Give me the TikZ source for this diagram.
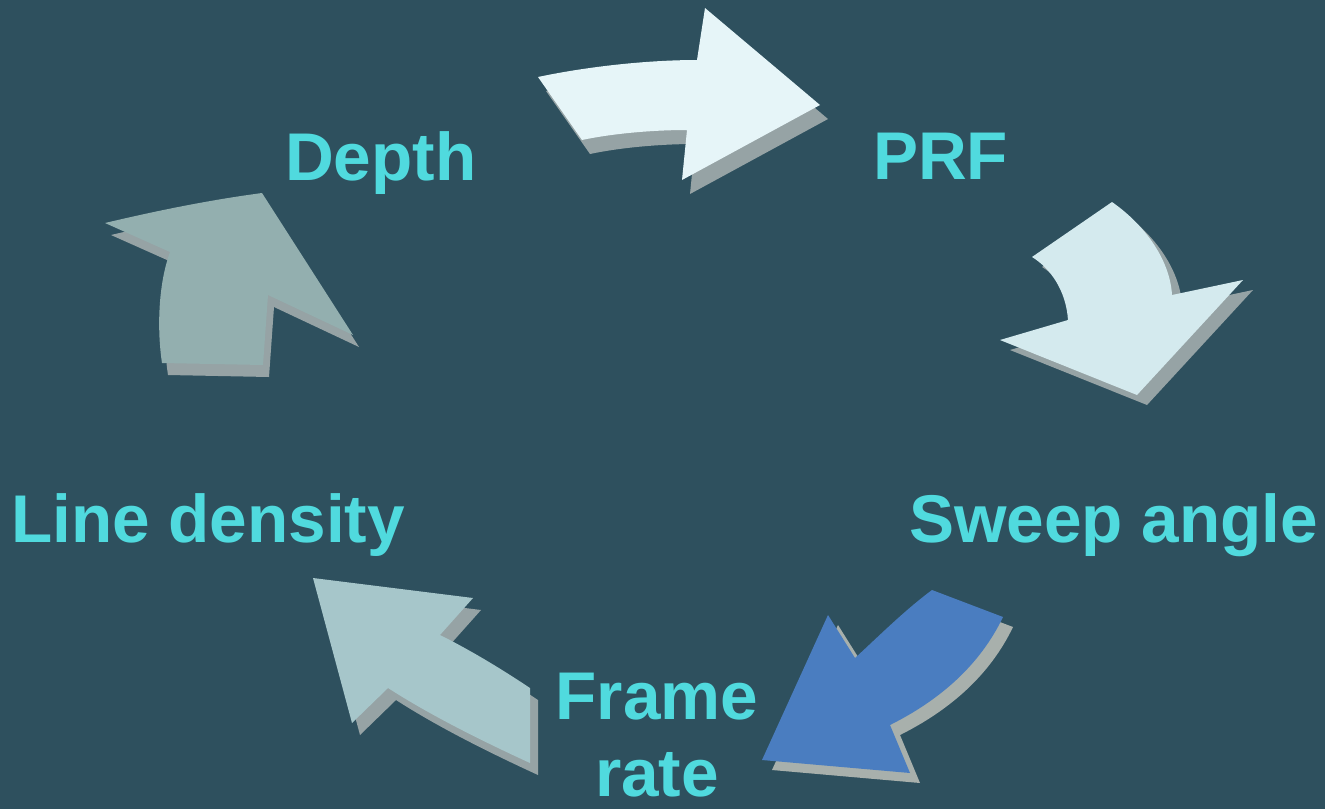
\documentclass[tikz,border=0pt]{standalone}
\usepackage{fontspec}
\setmainfont{Liberation Sans}
\definecolor{bg}{RGB}{46,80,94}
\definecolor{lblc}{RGB}{80,218,222}
\definecolor{shd}{RGB}{150,163,165}
\definecolor{shdc}{RGB}{168,176,172}
\definecolor{fa}{RGB}{230,245,248}
\definecolor{fb}{RGB}{212,234,238}
\definecolor{fc}{RGB}{74,125,192}
\definecolor{fd}{RGB}{166,198,202}
\definecolor{fe}{RGB}{147,175,175}
\tikzset{
  labeltext/.style={text=lblc, font=\fontsize{67.5}{77}\selectfont\bfseries, inner sep=0pt, anchor=base west},
  shadowpart/.style={fill=shd},
}
\def\pathA{(538,77) .. controls (590,66) and (650,60) .. (697,60) -- (705,8) -- (820,105) -- (682,180) -- (687,130) .. controls (650,130) and (610,134) .. (582,140) -- cycle}
\def\pathB{(1032,257) -- (1112,202) .. controls (1145,225) and (1170,260) .. (1172,295) -- (1243,280) -- (1137,395) -- (1000,340) -- (1068,320) .. controls (1066,290) and (1050,268) .. (1032,257) -- cycle}
\def\pathC{(932,590) -- (1003,617) .. controls (980,665) and (940,700) .. (890,725) -- (910,773) -- (762,760) -- (828,615) -- (855,658) .. controls (880,635) and (905,610) .. (932,590) -- cycle}
\def\pathD{(313,578) -- (473,598) -- (440,635) .. controls (470,650) and (500,668) .. (530,688) -- (530,763) .. controls (480,740) and (430,715) .. (388,688) -- (352,723) -- cycle}
\def\pathE{(105,223) .. controls (160,210) and (210,200) .. (262,193) -- (353,335) -- (268,295) -- (263,365) -- (162,363) .. controls (157,330) and (158,285) .. (170,252) -- cycle}
\begin{document}
\begin{tikzpicture}[x=1pt,y=-1pt]
\fill[bg] (0,0) rectangle (1325,809);
\useasboundingbox (0,0) rectangle (1325,809);
% arrow 1 (top)
\fill[shadowpart, shift={(8,14)}] \pathA;
\fill[fa] \pathA;
% arrow 2 (right)
\fill[shadowpart, shift={(10,10)}] \pathB;
\fill[fb] \pathB;
% arrow 3 (bottom right, blue)
\fill[fill=shdc, shift={(10,10)}] \pathC;
\fill[fc] \pathC;
% arrow 4 (bottom left)
\fill[shadowpart, shift={(8,12)}] \pathD;
\fill[fd] \pathD;
% arrow 5 (left)
\fill[shadowpart, shift={(6,12)}] \pathE;
\fill[fe] \pathE;
% labels
\node[labeltext] (depth) at (285,180) {Depth};
\node[labeltext] (prf) at (873,179) {PRF};
\node[labeltext] (line) at (11,542) {Line density};
\node[labeltext] (sweep) at (909,542) {Sweep angle};
\node[labeltext, anchor=north, align=center] (frame) at (657,673) {Frame\\rate};
\end{tikzpicture}
\end{document}
